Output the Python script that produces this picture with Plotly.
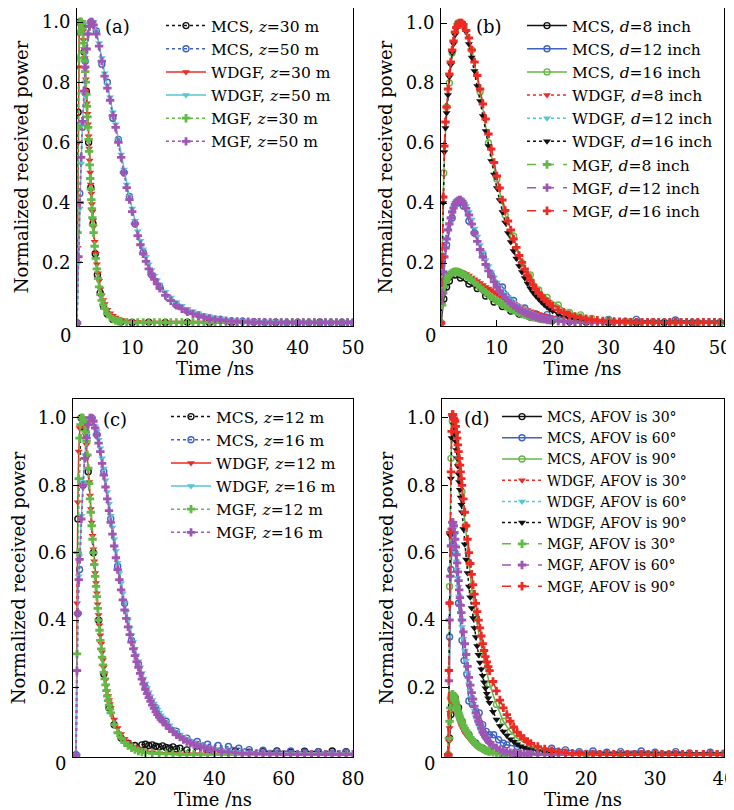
import plotly.graph_objects as go

# The page body adds an 8 px margin, so the figure is drawn 8 px smaller and all
# positions below are given in window pixels, then shifted by OFF.
OFF = 8
W, H = 734 - OFF, 810 - OFF
FONT = "DejaVu Serif"

BLACK = "#111111"
BLUE = "#3f63bc"
RED = "#ee2a24"
CYAN = "#56c6d4"
GREEN = "#62b946"
PURPLE = "#a055b4"

# ---------------- panel (a) ----------------
TA30 = [0, 0.1, 0.2, 0.3, 0.4, 0.5, 0.6, 0.7, 0.8, 0.9, 1.0, 1.1, 1.2, 1.3, 1.4, 1.5, 1.6, 1.7, 1.8, 1.9,
        2.0, 2.1, 2.2, 2.3, 2.4, 2.5, 2.6, 2.7, 2.8, 2.9, 3.0, 3.2, 3.4, 3.6, 3.8, 4.0, 4.25, 4.5, 4.75, 5.0,
        5.5, 6.0, 6.5, 7.0, 7.5, 8, 9, 10, 11, 12, 13, 14, 15, 16, 17, 18, 19, 20, 21, 22, 23, 24, 25, 26, 27,
        28, 29, 30, 31, 32, 33, 34, 35, 36, 37, 38, 39, 40, 41, 42, 43, 44, 45, 46, 47, 48, 49, 50]
WDGF_A30 = [0, 0.25, 0.6, 0.85, 0.96, 0.99, 1.0, 1.0, 1.0, 1.0, 0.99, 0.97, 0.94, 0.91, 0.88, 0.845, 0.81, 0.77,
            0.73, 0.695, 0.66, 0.62, 0.58, 0.54, 0.5, 0.46, 0.43, 0.395, 0.37, 0.34, 0.32, 0.27, 0.23, 0.195,
            0.165, 0.14, 0.113, 0.092, 0.076, 0.063, 0.044, 0.032, 0.024, 0.018, 0.013, 0.01, 0.006, 0.004, 0.003,
            0.002, 0.002, 0.002, 0.002, 0.002, 0.002, 0.002, 0.002, 0.002, 0.002, 0.002, 0.002, 0.002, 0.002,
            0.002, 0.002, 0.002, 0.002, 0.002, 0.002, 0.002, 0.002, 0.002, 0.002, 0.002, 0.002, 0.002, 0.002,
            0.002, 0.002, 0.002, 0.002, 0.002, 0.002, 0.002, 0.002, 0.002, 0.002, 0.002]
MGF_A30 = [0, 0.3, 0.65, 0.88, 0.97, 1.0, 1.0, 1.0, 1.0, 0.995, 0.98, 0.96, 0.93, 0.9, 0.87, 0.835, 0.8, 0.76,
           0.72, 0.685, 0.65, 0.61, 0.57, 0.525, 0.48, 0.445, 0.41, 0.38, 0.35, 0.325, 0.3, 0.255, 0.215, 0.18,
           0.148, 0.12, 0.095, 0.075, 0.06, 0.048, 0.03, 0.02, 0.013, 0.008, 0.006, 0.004, 0.003,
           0.002, 0.002, 0.002, 0.002, 0.002, 0.002, 0.002, 0.002, 0.002, 0.002, 0.002, 0.002, 0.002, 0.002,
           0.002, 0.002, 0.002, 0.002, 0.002, 0.002, 0.002, 0.002, 0.002, 0.002, 0.002, 0.002, 0.002, 0.002,
           0.002, 0.002, 0.002, 0.002, 0.002, 0.002, 0.002, 0.002, 0.002, 0.002, 0.002, 0.002, 0.002]
TA30_M = [0, 0.2, 0.5, 0.9, 1.3, 1.7, 2.1, 2.5, 2.9, 3.3, 3.7, 4.2, 4.8, 5.5, 6.5, 8, 10, 13, 16, 20, 24, 28, 32,
          36, 40, 44, 48]
MCS_A30 = [0, 0.7, 1.0, 0.99, 0.9, 0.77, 0.6, 0.45, 0.33, 0.23, 0.16, 0.1, 0.055, 0.03, 0.012, 0.004, 0.002,
           0.003, 0.002, 0.003, 0.002, 0.002, 0.003, 0.002, 0.002, 0.003, 0.002]

TA50 = [0, 0.25, 0.5, 0.75, 1.0, 1.25, 1.5, 1.75, 2.0, 2.25, 2.5, 2.75, 3.0, 3.5, 4.0, 4.5, 5.0, 5.5, 6.0, 6.5,
        7.0, 7.5, 8.0, 8.5, 9.0, 9.5, 10, 10.5, 11, 11.5, 12, 12.5, 13, 13.5, 14, 14.5, 15, 16, 17, 18, 19, 20,
        21, 22, 23, 24, 25, 26, 27, 28, 29, 30, 31, 32, 33, 34, 35, 36, 37, 38, 39, 40, 41, 42, 43, 44, 45, 46,
        47, 48, 49, 50]
WDGF_A50 = [0, 0.2, 0.38, 0.53, 0.66, 0.76, 0.85, 0.91, 0.96, 0.99, 1.0, 1.0, 1.0, 0.97, 0.93, 0.88, 0.83, 0.79,
            0.75, 0.7, 0.66, 0.61, 0.56, 0.51, 0.46, 0.42, 0.38, 0.34, 0.305, 0.273, 0.245, 0.22, 0.195, 0.176,
            0.158, 0.142, 0.128, 0.103, 0.085, 0.07, 0.057, 0.047, 0.039, 0.032, 0.026, 0.022, 0.018, 0.015,
            0.012, 0.01, 0.008, 0.007, 0.006, 0.005, 0.004, 0.004, 0.003, 0.003,
            0.002, 0.002, 0.002, 0.002, 0.002, 0.002, 0.002, 0.002, 0.002, 0.002, 0.002, 0.002, 0.002, 0.002]
MGF_A50 = [0, 0.22, 0.4, 0.55, 0.67, 0.77, 0.85, 0.91, 0.96, 0.985, 1.0, 1.0, 0.99, 0.96, 0.92, 0.87, 0.82, 0.78,
           0.74, 0.69, 0.65, 0.6, 0.55, 0.5, 0.45, 0.41, 0.37, 0.33, 0.29, 0.26, 0.23, 0.205, 0.18, 0.162, 0.145,
           0.13, 0.115, 0.092, 0.074, 0.059, 0.047, 0.037, 0.03, 0.024, 0.019, 0.015, 0.012, 0.01, 0.008, 0.006,
           0.005, 0.004, 0.004, 0.003, 0.003, 0.003,
           0.002, 0.002, 0.002, 0.002, 0.002, 0.002, 0.002, 0.002, 0.002, 0.002, 0.002, 0.002, 0.002, 0.002,
           0.002, 0.002]
TA50_M = [0, 0.5, 1.0, 1.5, 2.5, 3.5, 4.5, 5.5, 6.5, 7.5, 8.5, 9.5, 10.5, 12, 13.5, 15, 16.5, 18, 20, 22, 24, 26,
          28, 30, 32, 34, 36, 38, 40, 42, 44, 46, 48, 50]
MCS_A50 = [0, 0.43, 0.65, 0.87, 1.0, 0.97, 0.86, 0.8, 0.68, 0.61, 0.5, 0.42, 0.33, 0.235, 0.16, 0.12, 0.085, 0.06,
           0.04, 0.027, 0.016, 0.012, 0.007, 0.006, 0.004, 0.002, 0.003, 0.001, 0.002, 0.001, 0, 0.001, 0, 0.001]

# ---------------- panel (b) ----------------
TB = [0, 0.2, 0.4, 0.6, 0.8, 1.0, 1.25, 1.5, 1.75, 2.0, 2.25, 2.5, 2.75, 3.0, 3.25, 3.5, 3.75, 4.0, 4.5, 5.0,
      5.5, 6.0, 6.5, 7.0, 7.5, 8.0, 8.5, 9.0, 9.5, 10, 10.5, 11, 11.5, 12, 12.5, 13, 13.5, 14, 14.5, 15, 15.5,
      16, 16.5, 17, 17.5, 18, 18.5, 19, 19.5, 20, 21, 22, 23, 24, 25, 26, 27, 28, 29, 30, 31, 32, 33, 34, 35,
      36, 37, 38, 39, 40, 41, 42, 43, 44, 45, 46, 47, 48, 49, 50]
WDGF_B8 = [0, 0.06, 0.1, 0.12, 0.135, 0.145, 0.153, 0.16, 0.165, 0.168, 0.17, 0.172, 0.172, 0.172, 0.171, 0.17,
           0.169, 0.167, 0.163, 0.158, 0.152, 0.146, 0.14, 0.133, 0.127, 0.12, 0.115, 0.11, 0.103, 0.097, 0.091,
           0.085, 0.08, 0.074, 0.069, 0.064, 0.06, 0.055, 0.05, 0.046, 0.043, 0.039, 0.036, 0.033, 0.03, 0.027,
           0.025, 0.022, 0.02, 0.018, 0.015, 0.012, 0.01, 0.008, 0.006, 0.005, 0.004, 0.003, 0.003,
           0.002, 0.002, 0.002, 0.002, 0.002, 0.002, 0.002, 0.002, 0.002, 0.002, 0.002, 0.002, 0.002, 0.002,
           0.002, 0.002, 0.002, 0.002, 0.002, 0.002, 0.002]
WDGF_B12 = [0, 0.1, 0.17, 0.22, 0.25, 0.28, 0.31, 0.33, 0.35, 0.37, 0.385, 0.4, 0.407, 0.412, 0.413, 0.412,
            0.409, 0.405, 0.39, 0.37, 0.345, 0.315, 0.288, 0.26, 0.235, 0.21, 0.19, 0.17, 0.152, 0.135, 0.121,
            0.108, 0.097, 0.086, 0.077, 0.068, 0.061, 0.054, 0.048, 0.043, 0.038, 0.034, 0.03, 0.027, 0.024,
            0.021, 0.019, 0.017, 0.015, 0.013, 0.01, 0.008, 0.006, 0.005, 0.004, 0.003, 0.003,
            0.002, 0.002, 0.002, 0.002, 0.002, 0.002, 0.002, 0.002, 0.002, 0.002, 0.002, 0.002, 0.002, 0.002,
            0.002, 0.002, 0.002, 0.002, 0.002, 0.002, 0.002, 0.002, 0.002]
WDGF_B16 = [0, 0.2, 0.4, 0.57, 0.65, 0.7, 0.76, 0.82, 0.86, 0.9, 0.93, 0.96, 0.98, 0.99, 1.0, 1.0, 1.0, 0.99,
            0.97, 0.93, 0.885, 0.84, 0.79, 0.74, 0.69, 0.64, 0.59, 0.54, 0.495, 0.45, 0.41, 0.37, 0.335, 0.3,
            0.27, 0.24, 0.215, 0.19, 0.17, 0.15, 0.132, 0.115, 0.102, 0.09, 0.08, 0.07, 0.061, 0.053, 0.046, 0.04,
            0.03, 0.022, 0.016, 0.012, 0.009, 0.006, 0.005, 0.004, 0.003, 0.003,
            0.002, 0.002, 0.002, 0.002, 0.002, 0.002, 0.002, 0.002, 0.002, 0.002, 0.002, 0.002, 0.002, 0.002,
            0.002, 0.002, 0.002, 0.002, 0.002, 0.002]
MGF_B8 = [0, 0.06, 0.1, 0.12, 0.135, 0.145, 0.153, 0.16, 0.165, 0.168, 0.17, 0.171, 0.171, 0.17, 0.169, 0.167,
          0.165, 0.162, 0.156, 0.15, 0.143, 0.135, 0.127, 0.118, 0.11, 0.102, 0.094, 0.087, 0.08, 0.074, 0.068,
          0.062, 0.056, 0.051, 0.046, 0.042, 0.038, 0.034, 0.03, 0.027, 0.024, 0.022, 0.019, 0.017, 0.015, 0.013,
          0.012, 0.01, 0.009, 0.008, 0.006, 0.005, 0.004, 0.003, 0.003,
          0.002, 0.002, 0.002, 0.002, 0.002, 0.002, 0.002, 0.002, 0.002, 0.002, 0.002, 0.002, 0.002, 0.002,
          0.002, 0.002, 0.002, 0.002, 0.002, 0.002, 0.002, 0.002, 0.002, 0.002, 0.002]
MGF_B12 = [0, 0.1, 0.17, 0.22, 0.25, 0.28, 0.31, 0.33, 0.35, 0.37, 0.383, 0.395, 0.403, 0.408, 0.41, 0.41, 0.405,
           0.4, 0.382, 0.36, 0.33, 0.3, 0.272, 0.245, 0.22, 0.195, 0.174, 0.155, 0.137, 0.12, 0.107, 0.095, 0.084,
           0.074, 0.066, 0.058, 0.051, 0.045, 0.04, 0.035, 0.031, 0.027, 0.024, 0.021, 0.018, 0.016, 0.014, 0.012,
           0.011, 0.009, 0.007, 0.005, 0.004, 0.003, 0.003,
           0.002, 0.002, 0.002, 0.002, 0.002, 0.002, 0.002, 0.002, 0.002, 0.002, 0.002, 0.002, 0.002, 0.002,
           0.002, 0.002, 0.002, 0.002, 0.002, 0.002, 0.002, 0.002, 0.002, 0.002, 0.002]
MGF_B16 = [0, 0.22, 0.42, 0.59, 0.67, 0.72, 0.78, 0.83, 0.87, 0.91, 0.94, 0.97, 0.985, 0.995, 1.0, 1.0, 1.0,
           0.995, 0.975, 0.95, 0.91, 0.87, 0.825, 0.78, 0.73, 0.68, 0.63, 0.58, 0.535, 0.49, 0.45, 0.41, 0.375,
           0.34, 0.31, 0.28, 0.252, 0.225, 0.202, 0.18, 0.16, 0.143, 0.127, 0.113, 0.1, 0.09, 0.08, 0.071, 0.063,
           0.056, 0.044, 0.035, 0.028, 0.022, 0.018, 0.014, 0.011, 0.009, 0.007, 0.006, 0.005, 0.004, 0.004,
           0.003, 0.003,
           0.002, 0.002, 0.002, 0.002, 0.002, 0.002, 0.002, 0.002, 0.002, 0.002, 0.002, 0.002, 0.002, 0.002,
           0.002]
TB_M8 = [0, 0.5, 1.0, 1.5, 2.5, 3.5, 5, 6.5, 8, 9.5, 11, 12.5, 14, 16, 18, 20, 23, 26, 30, 35, 40, 45, 50]
MCS_B8 = [0, 0.08, 0.12, 0.14, 0.16, 0.15, 0.13, 0.115, 0.09, 0.07, 0.055, 0.04, 0.03, 0.02, 0.013, 0.009, 0.005,
          0.003, 0.002, 0.001, 0.002, 0.001, 0.002]
TB_M12 = [0, 0.5, 1.0, 2.0, 3.0, 4.0, 5.0, 6.0, 7.5, 9, 11, 13, 15, 17, 19, 21, 24, 27, 30, 33, 35, 38, 42, 46, 50]
MCS_B12 = [0, 0.16, 0.26, 0.35, 0.4, 0.39, 0.34, 0.3, 0.23, 0.16, 0.12, 0.075, 0.05, 0.03, 0.028, 0.015, 0.01,
           0.006, 0.012, 0.005, 0.012, 0.004, 0.01, 0.002, 0.001]
TB_M16 = [0, 0.5, 1.0, 1.5, 2.0, 3.0, 4.0, 5.5, 7, 8.5, 10, 11.5, 13, 14.5, 16, 17.5, 19, 21, 23, 25, 27, 30, 34,
          38, 42, 46, 50]
MCS_B16 = [0, 0.5, 0.72, 0.8, 0.9, 1.0, 0.99, 0.91, 0.77, 0.6, 0.48, 0.36, 0.29, 0.2, 0.16, 0.11, 0.085, 0.06,
           0.035, 0.027, 0.015, 0.009, 0.005, 0.003, 0.002, 0.001, 0.002]

# ---------------- panel (c) ----------------
TC12 = [0, 0.25, 0.5, 0.75, 1.0, 1.25, 1.5, 1.75, 2.0, 2.25, 2.5, 2.75, 3.0, 3.25, 3.5, 3.75, 4.0, 4.25, 4.5,
        4.75, 5.0, 5.25, 5.5, 5.75, 6.0, 6.25, 6.5, 6.75, 7.0, 7.25, 7.5, 7.75, 8.0, 8.25, 8.5, 8.75, 9.0, 9.25,
        9.5, 9.75, 10, 11, 12, 13, 14, 15, 16, 17, 18, 19, 20, 22, 24, 26, 28, 30, 32, 34, 36, 38, 40, 42, 44,
        46, 48, 50, 52, 54, 56, 58, 60, 62, 64, 66, 68, 70, 72, 74, 76, 78, 80]
WDGF_C12 = [0, 0.45, 0.75, 0.9, 0.97, 1.0, 1.0, 1.0, 0.99, 0.98, 0.97, 0.95, 0.92, 0.885, 0.85, 0.81, 0.77, 0.73,
            0.69, 0.65, 0.61, 0.575, 0.54, 0.51, 0.48, 0.447, 0.415, 0.385, 0.355, 0.33, 0.305, 0.282, 0.26,
            0.241, 0.223, 0.206, 0.19, 0.176, 0.163, 0.151, 0.14, 0.105, 0.08, 0.062, 0.048, 0.038, 0.03, 0.024,
            0.019, 0.015, 0.012, 0.008, 0.005, 0.004, 0.003,
            0.002, 0.002, 0.002, 0.002, 0.002, 0.002, 0.002, 0.002, 0.002, 0.002, 0.002, 0.002, 0.002, 0.002,
            0.002, 0.002, 0.002, 0.002, 0.002, 0.002, 0.002, 0.002, 0.002, 0.002, 0.002, 0.002]
MGF_C12 = [0, 0.3, 0.6, 0.82, 0.94, 0.98, 1.0, 1.0, 1.0, 0.99, 0.98, 0.96, 0.93, 0.89, 0.85, 0.805, 0.76, 0.72,
           0.68, 0.64, 0.6, 0.565, 0.53, 0.5, 0.47, 0.435, 0.4, 0.37, 0.34, 0.315, 0.29, 0.267, 0.245, 0.226,
           0.208, 0.191, 0.175, 0.161, 0.148, 0.136, 0.125, 0.09, 0.066, 0.05, 0.037, 0.028, 0.021, 0.016, 0.012,
           0.009, 0.007, 0.005, 0.004, 0.003, 0.003,
           0.002, 0.002, 0.002, 0.002, 0.002, 0.002, 0.002, 0.002, 0.002, 0.002, 0.002, 0.002, 0.002, 0.002,
           0.002, 0.002, 0.002, 0.002, 0.002, 0.002, 0.002, 0.002, 0.002, 0.002, 0.002, 0.002]
TC16 = [0, 0.25, 0.5, 0.75, 1.0, 1.5, 2.0, 2.5, 3.0, 3.5, 4.0, 4.5, 5.0, 5.5, 6.0, 6.5, 7.0, 7.5, 8.0, 8.5, 9.0,
        9.5, 10, 10.5, 11, 11.5, 12, 12.5, 13, 13.5, 14, 14.5, 15, 15.5, 16, 16.5, 17, 17.5, 18, 18.5, 19, 19.5,
        20, 20.5, 21, 21.5, 22, 22.5, 23, 23.5, 24, 24.5, 25, 26, 27, 28, 29, 30, 31, 32, 33, 34, 35, 36, 37, 38,
        39, 40, 42, 44, 46, 48, 50, 52, 54, 56, 58, 60, 62, 64, 66, 68, 70, 72, 74, 76, 78, 80]
WDGF_C16 = [0, 0.25, 0.42, 0.53, 0.59, 0.71, 0.81, 0.89, 0.95, 0.99, 1.0, 1.0, 0.99, 0.975, 0.96, 0.935, 0.91,
            0.88, 0.85, 0.815, 0.78, 0.745, 0.71, 0.675, 0.64, 0.605, 0.57, 0.54, 0.51, 0.48, 0.45, 0.425, 0.4,
            0.377, 0.355, 0.335, 0.315, 0.296, 0.278, 0.26, 0.243, 0.227, 0.212, 0.199, 0.186, 0.174, 0.163,
            0.153, 0.143, 0.134, 0.126, 0.118, 0.111, 0.099, 0.088, 0.078, 0.069, 0.061, 0.054, 0.048, 0.042,
            0.037, 0.033, 0.029, 0.026, 0.023, 0.02, 0.018, 0.014, 0.011, 0.009, 0.007, 0.006, 0.005, 0.004,
            0.004, 0.003, 0.003, 0.002, 0.002, 0.002, 0.002, 0.002, 0.002, 0.002, 0.002, 0.002, 0.002]
MGF_C16 = [0, 0.25, 0.42, 0.52, 0.58, 0.7, 0.8, 0.88, 0.94, 0.98, 1.0, 1.0, 0.99, 0.97, 0.95, 0.925, 0.9, 0.865,
           0.83, 0.795, 0.76, 0.725, 0.69, 0.655, 0.62, 0.585, 0.55, 0.52, 0.49, 0.46, 0.43, 0.405, 0.38, 0.357,
           0.335, 0.315, 0.295, 0.277, 0.26, 0.242, 0.225, 0.21, 0.195, 0.182, 0.17, 0.159, 0.148, 0.138, 0.128,
           0.12, 0.112, 0.106, 0.1, 0.089, 0.078, 0.069, 0.06, 0.053, 0.046, 0.04, 0.035, 0.031, 0.027, 0.024,
           0.021, 0.018, 0.016, 0.014, 0.011, 0.009, 0.007, 0.005, 0.004, 0.004, 0.003, 0.003, 0.003,
           0.002, 0.002, 0.002, 0.002, 0.002, 0.002, 0.002, 0.002, 0.002, 0.002, 0.002]
TC_M12 = [0, 0.5, 1.5, 2.5, 3.5, 5, 6.5, 8, 9.5, 11, 13, 15, 17, 19, 20, 21, 22, 23, 24, 25, 26, 27, 28, 29, 30,
          32, 35, 38, 42, 46, 50, 54, 58, 62, 66, 70, 74, 78]
MCS_C12 = [0, 0.7, 1.0, 0.97, 0.84, 0.6, 0.4, 0.24, 0.14, 0.09, 0.05, 0.035, 0.028, 0.03, 0.032, 0.028, 0.03,
           0.026, 0.024, 0.027, 0.022, 0.02, 0.024, 0.018, 0.02, 0.015, 0.012, 0.014, 0.01, 0.012, 0.008, 0.01,
           0.012, 0.009, 0.011, 0.01, 0.012, 0.01]
TC_M16 = [0, 0.5, 1.0, 2.0, 3.0, 4.5, 6, 8, 10, 12, 14, 16, 18, 20, 23, 26, 29, 32, 35, 38, 41, 44, 47, 50, 54,
          58, 62, 66, 70, 74, 78]
MCS_C16 = [0, 0.42, 0.55, 0.8, 0.95, 1.0, 0.95, 0.84, 0.7, 0.56, 0.45, 0.34, 0.27, 0.2, 0.14, 0.1, 0.07, 0.05,
           0.04, 0.032, 0.028, 0.025, 0.02, 0.016, 0.014, 0.01, 0.012, 0.008, 0.01, 0.006, 0.008]

# ---------------- panel (d) ----------------
TD = [0, 0.1, 0.2, 0.3, 0.4, 0.5, 0.6, 0.7, 0.8, 0.9, 1.0, 1.1, 1.2, 1.3, 1.4, 1.5, 1.6, 1.7, 1.8, 1.9, 2.0,
      2.2, 2.4, 2.6, 2.8, 3.0, 3.2, 3.4, 3.6, 3.8, 4.0, 4.2, 4.4, 4.6, 4.8, 5.0, 5.2, 5.4, 5.6, 5.8, 6.0, 6.5, 7,
      7.5, 8, 8.5, 9, 9.5, 10, 10.5, 11, 11.5, 12, 13, 14, 15, 16, 17, 18, 19, 20, 21, 22, 23, 24, 25, 26, 27,
      28, 29, 30, 31, 32, 33, 34, 35, 36, 37, 38, 39, 40]
WDGF_D30 = [0, 0.04, 0.08, 0.125, 0.16, 0.175, 0.18, 0.177, 0.17, 0.163, 0.155, 0.146, 0.137, 0.128, 0.12, 0.113,
            0.106, 0.1, 0.094, 0.088, 0.082, 0.074, 0.066, 0.06, 0.055, 0.05, 0.045, 0.04, 0.036, 0.032, 0.028,
            0.025, 0.022, 0.02, 0.018, 0.016, 0.014, 0.012, 0.011, 0.01, 0.009, 0.007, 0.005, 0.004, 0.003,
            0.003, 0.002, 0.002, 0.002, 0.002, 0.002, 0.002, 0.002, 0.002, 0.002, 0.002, 0.002, 0.002, 0.002,
            0.002, 0.002, 0.002, 0.002, 0.002, 0.002, 0.002, 0.002, 0.002, 0.002, 0.002, 0.002, 0.002, 0.002,
            0.002, 0.002, 0.002, 0.002, 0.002, 0.002, 0.002, 0.002]
WDGF_D60 = [0, 0.22, 0.4, 0.53, 0.62, 0.67, 0.69, 0.685, 0.67, 0.65, 0.62, 0.6, 0.575, 0.55, 0.525, 0.5, 0.47,
            0.445, 0.42, 0.4, 0.38, 0.345, 0.31, 0.28, 0.245, 0.21, 0.19, 0.17, 0.152, 0.132, 0.113, 0.1, 0.09,
            0.08, 0.07, 0.06, 0.054, 0.047, 0.042, 0.037, 0.032, 0.025, 0.018, 0.014, 0.01, 0.008, 0.006, 0.005,
            0.004, 0.003, 0.003, 0.003, 0.002, 0.002, 0.002, 0.002, 0.002, 0.002, 0.002, 0.002, 0.002, 0.002,
            0.002, 0.002, 0.002, 0.002, 0.002, 0.002, 0.002, 0.002, 0.002, 0.002, 0.002, 0.002, 0.002, 0.002,
            0.002, 0.002, 0.002, 0.002, 0.002]
WDGF_D90 = [0, 0.25, 0.45, 0.65, 0.82, 0.94, 1.0, 0.995, 0.98, 0.965, 0.95, 0.93, 0.905, 0.88, 0.857, 0.833, 0.81,
            0.787, 0.764, 0.742, 0.72, 0.67, 0.625, 0.58, 0.54, 0.5, 0.468, 0.436, 0.406, 0.377, 0.35, 0.323,
            0.297, 0.274, 0.254, 0.235, 0.216, 0.198, 0.182, 0.168, 0.155, 0.128, 0.105, 0.086, 0.07, 0.058,
            0.047, 0.039, 0.032, 0.026, 0.022, 0.018, 0.015, 0.011, 0.008, 0.006, 0.005, 0.004, 0.003, 0.003,
            0.002, 0.002, 0.002, 0.002, 0.002, 0.002, 0.002, 0.002, 0.002, 0.002, 0.002, 0.002, 0.002, 0.002,
            0.002, 0.002, 0.002, 0.002, 0.002, 0.002, 0.002]
MGF_D30 = [0, 0.05, 0.1, 0.14, 0.17, 0.178, 0.18, 0.179, 0.175, 0.17, 0.163, 0.155, 0.146, 0.138, 0.13, 0.124,
           0.118, 0.112, 0.106, 0.1, 0.095, 0.087, 0.079, 0.072, 0.065, 0.058, 0.052, 0.047, 0.042, 0.037, 0.032,
           0.029, 0.026, 0.024, 0.021, 0.018, 0.016, 0.014, 0.013, 0.011, 0.01, 0.008, 0.006, 0.005, 0.004,
           0.003, 0.003, 0.002, 0.002, 0.002, 0.002, 0.002, 0.002, 0.002, 0.002, 0.002, 0.002, 0.002, 0.002,
           0.002, 0.002, 0.002, 0.002, 0.002, 0.002, 0.002, 0.002, 0.002, 0.002, 0.002, 0.002, 0.002, 0.002,
           0.002, 0.002, 0.002, 0.002, 0.002, 0.002, 0.002, 0.002]
MGF_D60 = [0, 0.22, 0.4, 0.53, 0.62, 0.67, 0.69, 0.69, 0.68, 0.66, 0.64, 0.617, 0.594, 0.57, 0.543, 0.517, 0.49,
           0.467, 0.444, 0.422, 0.4, 0.365, 0.33, 0.298, 0.263, 0.23, 0.207, 0.185, 0.166, 0.145, 0.125, 0.112,
           0.1, 0.09, 0.079, 0.068, 0.061, 0.054, 0.048, 0.042, 0.037, 0.029, 0.021, 0.016, 0.012, 0.009, 0.007,
           0.006, 0.005, 0.004, 0.003, 0.003, 0.003, 0.002, 0.002, 0.002, 0.002, 0.002, 0.002, 0.002, 0.002,
           0.002, 0.002, 0.002, 0.002, 0.002, 0.002, 0.002, 0.002, 0.002, 0.002, 0.002, 0.002, 0.002, 0.002,
           0.002, 0.002, 0.002, 0.002, 0.002, 0.002]
MGF_D90 = [0, 0.25, 0.45, 0.66, 0.84, 0.96, 1.01, 1.01, 1.0, 0.995, 0.99, 0.975, 0.958, 0.94, 0.92, 0.9, 0.88,
           0.86, 0.84, 0.82, 0.8, 0.76, 0.72, 0.68, 0.64, 0.6, 0.568, 0.536, 0.505, 0.477, 0.45, 0.425, 0.4,
           0.377, 0.353, 0.33, 0.31, 0.292, 0.276, 0.262, 0.25, 0.218, 0.19, 0.163, 0.14, 0.12, 0.1, 0.083,
           0.068, 0.057, 0.048, 0.04, 0.034, 0.025, 0.018, 0.013, 0.01, 0.007, 0.005, 0.004, 0.003, 0.003,
           0.002, 0.002, 0.002, 0.002, 0.002, 0.002, 0.002, 0.002, 0.002, 0.002, 0.002, 0.002, 0.002, 0.002,
           0.002, 0.002, 0.002, 0.002, 0.002]
TD_M30 = [0, 0.2, 0.4, 0.6, 0.8, 1.0, 1.5, 2.0, 3.0, 4.0, 5.0, 6.0, 8.0, 10, 15, 20, 25, 30, 35, 40]
MCS_D30 = [0, 0.05, 0.12, 0.16, 0.175, 0.17, 0.14, 0.1, 0.06, 0.035, 0.02, 0.012, 0.005, 0.002, 0.002, 0.002,
           0.002, 0.002, 0.002, 0.002]
TD_M60 = [0, 0.2, 0.4, 0.6, 1.0, 1.5, 2.0, 2.3, 2.7, 3.0, 3.5, 4.0, 4.5, 5.0, 5.5, 6.0, 6.6, 7.3, 8.0, 8.5, 10,
          12, 14, 15, 17, 19, 21, 23, 25, 28, 30, 33, 35, 38, 40]
MCS_D60 = [0, 0.35, 0.55, 0.64, 0.6, 0.45, 0.34, 0.28, 0.24, 0.16, 0.15, 0.13, 0.125, 0.09, 0.07, 0.06, 0.06,
           0.045, 0.035, 0.03, 0.025, 0.015, 0.012, 0.02, 0.015, 0.01, 0.012, 0.008, 0.01, 0.012, 0.008, 0.01,
           0.006, 0.008, 0.005]
TD_M90 = [0, 0.2, 0.4, 0.6, 0.8, 1.0, 1.5, 2.0, 2.5, 3.0, 3.5, 4.0, 5.0, 6.0, 7, 8, 9, 10, 12, 14, 16, 20, 25, 30,
          35, 40]
MCS_D90 = [0, 0.5, 0.88, 0.99, 0.98, 0.95, 0.86, 0.78, 0.68, 0.57, 0.48, 0.41, 0.3, 0.21, 0.15, 0.1, 0.07, 0.05,
           0.025, 0.012, 0.006, 0.002, 0.002, 0.002, 0.002, 0.002]

# tick labels
X_TICKS_AB = [10, 20, 30, 40, 50]
X_TICKS_C = [20, 40, 60, 80]
X_TICKS_D = [10, 20, 30, 40]
Y_TICKS = [0.2, 0.4, 0.6, 0.8, 1.0]
Y_TICKTEXT = ["0.2", "0.4", "0.6", "0.8", "1.0"]

fig = go.Figure()

MARK = {"MCS": "circle-open", "WDGF": "triangle-down", "MGF": "cross"}
MSIZE = {"MCS": 6, "WDGF": 7, "MGF": 7}


def add(panel, name, t, v, kind, color, dash):
    assert len(t) == len(v), (name, len(t), len(v))
    idx = {"a": "", "b": "2", "c": "3", "d": "4"}[panel]
    marker = dict(symbol=MARK[kind], size=MSIZE[kind], color=color)
    if kind == "MCS":
        marker["line"] = dict(width=1.4, color=color)
    fig.add_trace(go.Scatter(
        x=t, y=v, name=name, mode="lines+markers",
        line=dict(color=color, width=1.5, dash=dash),
        marker=marker,
        xaxis="x" + idx, yaxis="y" + idx,
        legend="legend" + idx,
    ))


# (a)
add("a", "MCS, <i>z</i>=30 m", TA30_M, MCS_A30, "MCS", BLACK, "dot")
add("a", "MCS, <i>z</i>=50 m", TA50_M, MCS_A50, "MCS", BLUE, "dot")
add("a", "WDGF, <i>z</i>=30 m", TA30, WDGF_A30, "WDGF", RED, "solid")
add("a", "WDGF, <i>z</i>=50 m", TA50, WDGF_A50, "WDGF", CYAN, "solid")
add("a", "MGF, <i>z</i>=30 m", TA30, MGF_A30, "MGF", GREEN, "dot")
add("a", "MGF, <i>z</i>=50 m", TA50, MGF_A50, "MGF", PURPLE, "dot")
# (b)
add("b", "MCS, <i>d</i>=8 inch", TB_M8, MCS_B8, "MCS", BLACK, "solid")
add("b", "MCS, <i>d</i>=12 inch", TB_M12, MCS_B12, "MCS", BLUE, "solid")
add("b", "MCS, <i>d</i>=16 inch", TB_M16, MCS_B16, "MCS", GREEN, "solid")
add("b", "WDGF, <i>d</i>=8 inch", TB, WDGF_B8, "WDGF", RED, "dot")
add("b", "WDGF, <i>d</i>=12 inch", TB, WDGF_B12, "WDGF", CYAN, "dot")
add("b", "WDGF, <i>d</i>=16 inch", TB, WDGF_B16, "WDGF", BLACK, "dot")
add("b", "MGF, <i>d</i>=8 inch", TB, MGF_B8, "MGF", GREEN, "dash")
add("b", "MGF, <i>d</i>=12 inch", TB, MGF_B12, "MGF", PURPLE, "dash")
add("b", "MGF, <i>d</i>=16 inch", TB, MGF_B16, "MGF", RED, "dash")
# (c)
add("c", "MCS, <i>z</i>=12 m", TC_M12, MCS_C12, "MCS", BLACK, "dot")
add("c", "MCS, <i>z</i>=16 m", TC_M16, MCS_C16, "MCS", BLUE, "dot")
add("c", "WDGF, <i>z</i>=12 m", TC12, WDGF_C12, "WDGF", RED, "solid")
add("c", "WDGF, <i>z</i>=16 m", TC16, WDGF_C16, "WDGF", CYAN, "solid")
add("c", "MGF, <i>z</i>=12 m", TC12, MGF_C12, "MGF", GREEN, "dot")
add("c", "MGF, <i>z</i>=16 m", TC16, MGF_C16, "MGF", PURPLE, "dot")
# (d)
add("d", "MCS, AFOV is 30°", TD_M30, MCS_D30, "MCS", BLACK, "solid")
add("d", "MCS, AFOV is 60°", TD_M60, MCS_D60, "MCS", BLUE, "solid")
add("d", "MCS, AFOV is 90°", TD_M90, MCS_D90, "MCS", GREEN, "solid")
add("d", "WDGF, AFOV is 30°", TD, WDGF_D30, "WDGF", RED, "dot")
add("d", "WDGF, AFOV is 60°", TD, WDGF_D60, "WDGF", CYAN, "dot")
add("d", "WDGF, AFOV is 90°", TD, WDGF_D90, "WDGF", BLACK, "dot")
add("d", "MGF, AFOV is 30°", TD, MGF_D30, "MGF", GREEN, "dash")
add("d", "MGF, AFOV is 60°", TD, MGF_D60, "MGF", PURPLE, "dash")
add("d", "MGF, AFOV is 90°", TD, MGF_D90, "MGF", RED, "dash")


def px(x):
    return (x - OFF) / W


def py(y):
    return 1 - (y - OFF) / H


def xax(x0, x1, rng, ticks, anchor):
    return dict(domain=[px(x0), px(x1)], range=rng, tickvals=ticks, ticktext=[str(t) for t in ticks],
                anchor=anchor, automargin=False, ticklabeloverflow="allow",
                showline=True, mirror=True, linecolor="black", linewidth=1, ticks="inside", ticklen=6,
                tickcolor="black", showgrid=False, zeroline=False, ticklabelstandoff=5,
                tickfont=dict(family=FONT, size=18, color="black"),
                title=dict(text="Time /ns", font=dict(family=FONT, size=18, color="black"), standoff=1))


def yax(y0, y1, rng, anchor):
    return dict(domain=[py(y1), py(y0)], range=rng, tickvals=Y_TICKS, ticktext=Y_TICKTEXT, anchor=anchor,
                automargin=False, ticklabeloverflow="allow",
                showline=True, mirror=True, linecolor="black", linewidth=1, ticks="inside", ticklen=6,
                tickcolor="black", showgrid=False, zeroline=False, ticklabelstandoff=2,
                tickfont=dict(family=FONT, size=18, color="black"),
                title=dict(text="Normalized received power", font=dict(family=FONT, size=18, color="black"),
                           standoff=8))


def leg(x, y, size):
    return dict(x=px(x), y=py(y), xanchor="left", yanchor="top", bgcolor="rgba(0,0,0,0)",
                font=dict(family=FONT, size=size, color="black"), tracegroupgap=0, itemwidth=40)


fig.update_layout(
    width=W, height=H, margin=dict(l=0, r=0, t=0, b=0, autoexpand=False),
    paper_bgcolor="white", plot_bgcolor="white", showlegend=True,
    xaxis=xax(77, 353, [0, 50], X_TICKS_AB, "y"),
    yaxis=yax(8, 326, [-0.01, 1.0465], "x"),
    xaxis2=xax(441, 724, [0, 50.7], X_TICKS_AB, "y2"),
    yaxis2=yax(8, 326, [-0.01, 1.05], "x2"),
    xaxis3=xax(73, 353, [-0.9, 80], X_TICKS_C, "y3"),
    yaxis3=yax(399, 757, [-0.006, 1.056], "x3"),
    xaxis4=xax(442, 724, [-0.9, 40], X_TICKS_D, "y4"),
    yaxis4=yax(399, 757, [-0.006, 1.056], "x4"),
    legend=leg(161, 9, 15.5),
    legend2=leg(522, 9, 15.5),
    legend3=leg(166, 400, 15.5),
    legend4=leg(497, 401, 14),
)

ann = []
for txt, x, y in [("(a)", 117, 26), ("(b)", 489, 26), ("(c)", 115, 419), ("(d)", 477, 418)]:
    ann.append(dict(text=txt, x=px(x), y=py(y), xref="paper", yref="paper", showarrow=False,
                    xanchor="center", yanchor="middle", font=dict(family=FONT, size=18, color="black")))
for x, y in [(65, 335), (430, 335), (60, 763), (429, 763)]:
    ann.append(dict(text="0", x=px(x), y=py(y), xref="paper", yref="paper", showarrow=False,
                    xanchor="center", yanchor="middle", font=dict(family=FONT, size=18, color="black")))
fig.update_layout(annotations=ann)

fig.write_html("out.html")
